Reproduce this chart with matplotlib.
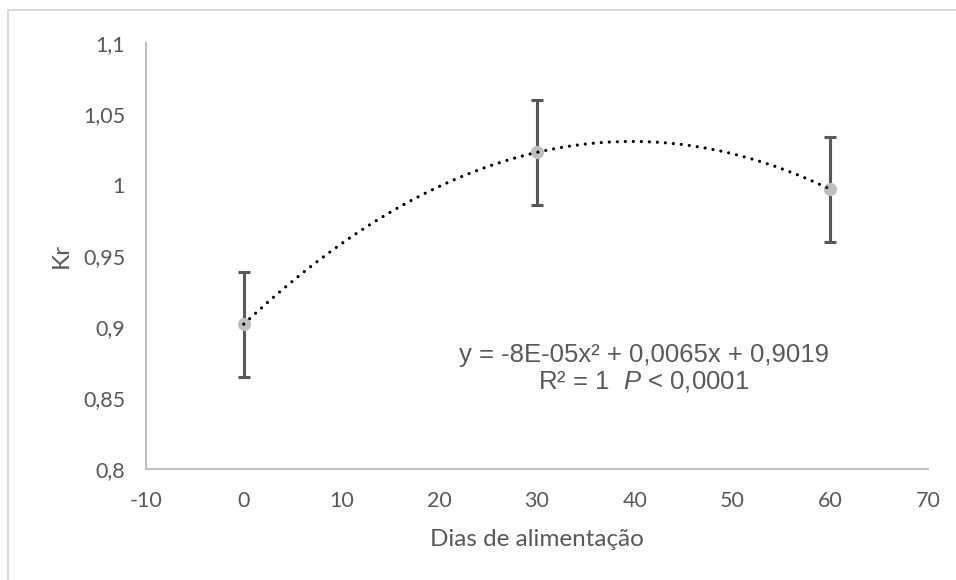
import numpy as np
import matplotlib.pyplot as plt
from matplotlib.patches import Rectangle

# dados
dias = [0, 30, 60]
kr = [0.902, 1.023, 0.997]
erro = [0.037, 0.037, 0.037]
xticks = [-10, 0, 10, 20, 30, 40, 50, 60, 70]
yticks = [0.8, 0.85, 0.9, 0.95, 1.0, 1.05, 1.1]
ylabels = ['0,8', '0,85', '0,9', '0,95', '1', '1,05', '1,1']

cinza = '#595959'
plt.rcParams['axes.unicode_minus'] = False
plt.rcParams['mathtext.fontset'] = 'custom'
plt.rcParams['mathtext.rm'] = 'Liberation Sans'
plt.rcParams['mathtext.it'] = 'Liberation Sans:italic'

fig = plt.figure(figsize=(9.56, 5.8), dpi=100)
fig.patches.append(Rectangle((8 / 956, -0.1), 1.2, (580 - 10) / 580 + 0.1,
                             transform=fig.transFigure, fill=False,
                             edgecolor='#d9d9d9', linewidth=1.5))
ax = fig.add_axes([146 / 956, 1 - 469 / 580, (928 - 146) / 956, (469 - 43) / 580])

# linha de tendencia polinomial (ordem 2)
coef = np.polyfit(dias, kr, 2)
xs = np.linspace(dias[0], dias[-1], 300)
ax.plot(xs, np.polyval(coef, xs), color='black', linestyle=(0, (0.01, 2.5)),
        linewidth=2.3, dash_capstyle='round', zorder=3)

ax.errorbar(dias, kr, yerr=erro, fmt='none', ecolor=cinza, elinewidth=2.2,
            capsize=4.5, capthick=2.2, zorder=2)
ax.plot(dias, kr, 'o', color='#bfbfbf', markersize=8.5, zorder=2.5)

ax.set_xlim(-10, 70)
ax.set_ylim(0.8, 1.1)
ax.set_xticks(xticks)
ax.set_yticks(yticks)
ax.set_yticklabels(ylabels)

for s in ['top', 'right']:
    ax.spines[s].set_visible(False)
for s in ['left', 'bottom']:
    ax.spines[s].set_color('#bfbfbf')
    ax.spines[s].set_linewidth(1.5)
ax.tick_params(length=0, labelsize=15.5, labelcolor=cinza)
ax.tick_params(axis='y', pad=15)
ax.tick_params(axis='x', pad=16)
for lab in ax.get_xticklabels() + ax.get_yticklabels():
    lab.set_family('Lato')

ax.set_xlabel('Dias de alimentação', fontsize=17.5, color=cinza, family='Lato', labelpad=13)
ax.set_ylabel('Kr', fontsize=17.5, color=cinza, family='Lato', labelpad=8)

ax.text(40.9, 0.8754, 'y = -8E-05x² + 0,0065x + 0,9019', fontsize=18.5, color=cinza,
        family='Liberation Sans', ha='center', va='baseline')
ax.text(40.9, 0.857, 'R² = 1  $P$ < 0,0001', fontsize=18.5, color=cinza,
        family='Liberation Sans', ha='center', va='baseline')

fig.savefig('out.png', dpi=100)
